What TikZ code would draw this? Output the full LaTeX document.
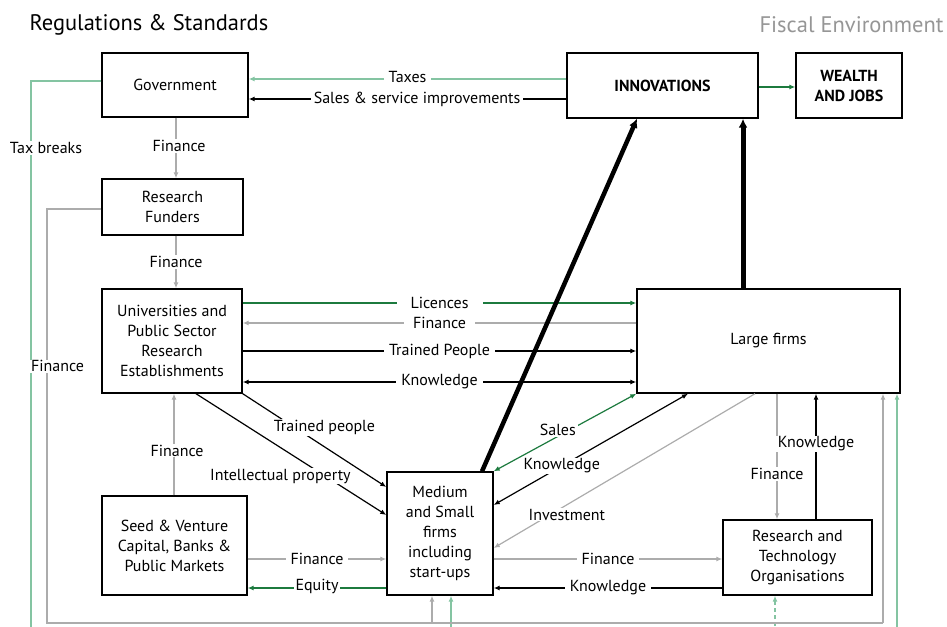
\documentclass[tikz,border=0pt]{standalone}
\usepackage{fontspec}
\setmainfont{PT Sans}
\usetikzlibrary{arrows.meta, calc}
\definecolor{mint}{RGB}{132,196,162}
\definecolor{dgreen}{RGB}{28,122,62}
\definecolor{lgrey}{RGB}{172,172,172}
\definecolor{tgrey}{RGB}{150,150,150}
\tikzset{box/.style = {draw, line width=1.4pt, align=center, inner sep=0pt, font=\fontsize{16}{20}\selectfont}}
\tikzset{lab/.style = {fill=white, inner xsep=5pt, inner ysep=1pt, text=black, font=\fontsize{16}{18}\selectfont}}
\tikzset{line/.style = {line width=1.2pt}}
\tikzset{tip/.style = {line, -{Latex[length=6pt, width=5pt]}}}
\tikzset{tips/.style = {line, {Latex[length=6pt, width=5pt]}-{Latex[length=6pt, width=5pt]}}}
\tikzset{fat/.style = {line width=4.5pt, -{Latex[length=9pt, width=9pt]}}}

\begin{document}
\begin{tikzpicture}[x=1pt, y=-1pt]
\clip (0,0) rectangle (947,626);
\node[anchor=west, font=\fontsize{22.5}{26}\selectfont] (reg) at (26,25) {Regulations \& Standards};
\node[anchor=east, text=tgrey, font=\fontsize{22.5}{26}\selectfont] (fisc) at (947,25) {Fiscal Environment};

\node[box, minimum width=146, minimum height=64] (gov) at (175,85) {Government};
\node[box, minimum width=191, minimum height=65, font=\fontsize{16}{20}\bfseries] (inno) at (662.5,85.5) {INNOVATIONS};
\node[box, minimum width=106, minimum height=65, font=\fontsize{16}{20}\bfseries] (wealth) at (849,85.5) {WEALTH\\AND JOBS};
\node[box, minimum width=141, minimum height=56] (fund) at (172.5,207) {Research\\Funders};
\node[box, minimum width=140, minimum height=104] (uni) at (172,341) {Universities and\\Public Sector\\Research\\Establishments};
\node[box, minimum width=145, minimum height=99] (seed) at (174.5,545.5) {Seed \& Venture\\Capital, Banks \&\\Public Markets};
\node[box, minimum width=106, minimum height=123] (msf) at (440,533.5) {Medium\\and Small\\firms\\including\\start-ups};
\node[box, minimum width=263, minimum height=104] (large) at (768.5,341) {Large firms};
\node[box, minimum width=149, minimum height=75] (rto) at (797.5,557.5) {Research and\\Technology\\Organisations};

\coordinate (gb) at (0,623);
\coordinate (mb) at (0,640);

\draw[line, mint] (gov.west |- 0,81) -| node[lab, pos=0.56, xshift=15] {Tax breaks} (mb -| 31,0) -- (mb -| 897,0);
\draw[tip, mint] (mb -| 451,0) -- (msf.south -| 451,0);
\draw[tip, mint, dash pattern=on 4pt off 3pt] (mb -| 775,0) -- (rto.south -| 775,0);
\draw[tip, mint] (mb -| 897,0) -- (large.south -| 897,0);
\draw[line, lgrey] (fund.west |- 0,209) -| node[lab, pos=0.69, xshift=10.5] {Finance} (gb -| 47,0) -- (gb -| 883,0);
\draw[tip, lgrey] (gb -| 432,0) -- (msf.south -| 432,0);
\draw[tip, lgrey] (gb -| 883,0) -- (large.south -| 883,0);

\draw[tip, mint] (inno.west |- 0,79) -- node[lab, yshift=2] {Taxes} (gov.east |- 0,79);
\draw[tip] (inno.west |- 0,99) -- node[lab, pos=0.47, inner xsep=3pt] {Sales \& service improvements} (gov.east |- 0,99);
\draw[tip, dgreen] (inno.east |- 0,87) -- (wealth.west |- 0,87);
\draw[tip, lgrey] (gov.south -| 176,0) -- node[lab, xshift=3, yshift=2] {Finance} (fund.north -| 176,0);
\draw[tip, lgrey] (fund.south -| 176,0) -- node[lab] {Finance} (uni.north -| 176,0);

\draw[tip, dgreen] (uni.east |- 0,303) -- node[lab, inner xsep=14pt] {Licences} (large.west |- 0,303);
\draw[tip, lgrey] (large.west |- 0,323) -- node[lab, inner xsep=9pt] {Finance} (uni.east |- 0,323);
\draw[tip] (uni.east |- 0,351) -- node[lab] {Trained People} (large.west |- 0,351);
\draw[tips] (uni.east |- 0,382) -- node[lab] {Knowledge} (large.west |- 0,382);

\draw[tip] (uni.south east) -- node[lab, pos=0.36, xshift=30, inner xsep=2pt] {Trained people} (msf.west |- 0,487);
\draw[tip] (uni.south -| 196,0) -- node[lab, pos=0.68, xshift=-45, inner xsep=2pt] {Intellectual property} (msf.west |- 0,515);
\draw[tip, lgrey] (seed.north -| 174,0) -- node[lab, pos=0.44, xshift=3] {Finance} (uni.south -| 174,0);

\draw[tip, lgrey] (seed.east |- 0,559) -- node[lab] {Finance} (msf.west |- 0,559);
\draw[tip, dgreen] (msf.west |- 0,588) -- node[lab, inner xsep=2pt, yshift=2] {Equity} (seed.east |- 0,588);
\draw[tip, lgrey] (msf.east |- 0,559) -- node[lab] {Finance} (rto.west |- 0,559);
\draw[tip] (rto.west |- 0,588) -- node[lab] {Knowledge} (msf.east |- 0,588);

\draw[tips, dgreen] (large.south west) -- node[lab, pos=0.55, yshift=6, inner xsep=2pt] {Sales} (msf.north east);
\draw[tips] (large.south -| 688,0) -- node[lab, pos=0.65, inner xsep=2pt] {Knowledge} (msf.east |- 0,505);
\draw[tip, lgrey] (large.south -| 755,0) -- node[lab, pos=0.72, yshift=-10, inner xsep=2pt] {Investment} (msf.east |- 0,548);

\draw[tip, lgrey] (large.south -| 777,0) -- node[lab, pos=0.64, inner xsep=2pt] {Finance} (rto.north -| 777,0);
\draw[tip] (rto.north -| 816,0) -- node[lab, pos=0.6, inner xsep=2pt] {Knowledge} (large.south -| 816,0);

\draw[fat] (msf.north -| 482,0) -- (inno.south -| 637,0);
\draw[fat, line width=5pt] (large.north -| 743,0) -- (inno.south -| 743,0);
\end{tikzpicture}
\end{document}
